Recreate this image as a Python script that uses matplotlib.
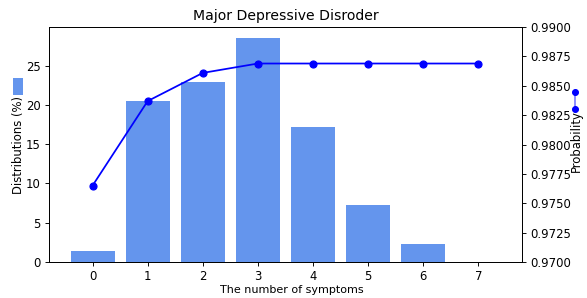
import matplotlib
matplotlib.use("Agg")
import matplotlib.pyplot as plt
from matplotlib.legend_handler import HandlerLine2D
from matplotlib.lines import Line2D
from matplotlib.ticker import MultipleLocator, FormatStrFormatter

symptoms = [0, 1, 2, 3, 4, 5, 6, 7]
distribution = [1.45, 20.5, 22.9, 28.5, 17.2, 7.2, 2.25, 0.0]
probability = [0.9765, 0.9837, 0.9861, 0.9869, 0.9869, 0.9869, 0.9869, 0.9869]


class VerticalLineHandler(HandlerLine2D):
    def create_artists(self, legend, orig_handle, xdescent, ydescent,
                       width, height, fontsize, trans):
        x = width / 2 - xdescent
        line = Line2D([x, x], [-ydescent, height - ydescent],
                      color=orig_handle.get_color(), alpha=0.5,
                      linewidth=1.5, transform=trans)
        dots = Line2D([x, x], [-ydescent, height - ydescent], linestyle="",
                      color=orig_handle.get_color(), marker="o", markersize=5,
                      transform=trans)
        return [line, dots]


fig, ax = plt.subplots(figsize=(587 / 84, 298 / 84), dpi=84)
fig.subplots_adjust(left=0.0835, right=0.889, top=0.909, bottom=0.121)

bars = ax.bar(symptoms, distribution, color="cornflowerblue")
ax.set_xlabel("The number of symptoms", fontsize=9.5, labelpad=1.5)
ax.xaxis.label.set_x(0.514)
ax.set_ylabel("Distributions (%)", labelpad=1)
ax.set_title("Major Depressive Disroder")

ax2 = ax.twinx()
line, = ax2.plot(symptoms, probability, color="blue", marker="o",
                 markersize=6)
ax2.set_ylim(0.97, 0.99)
ax2.yaxis.set_major_locator(MultipleLocator(0.0025))
ax2.yaxis.set_major_formatter(FormatStrFormatter("%.4f"))
ax2.set_ylabel("Probability", labelpad=-1)
ax2.yaxis.label.set_y(0.515)

fig.legend([bars], [""], loc="center", bbox_to_anchor=(0.031, 0.711),
           frameon=False, handlelength=0.86, handleheight=1.86,
           handletextpad=0, borderpad=0)
fig.legend([line], [""], loc="center", bbox_to_anchor=(0.98, 0.663),
           frameon=False, handlelength=0.5, handleheight=1.86,
           handletextpad=0, borderpad=0,
           handler_map={Line2D: VerticalLineHandler()})

plt.savefig("out.png", dpi=84)
